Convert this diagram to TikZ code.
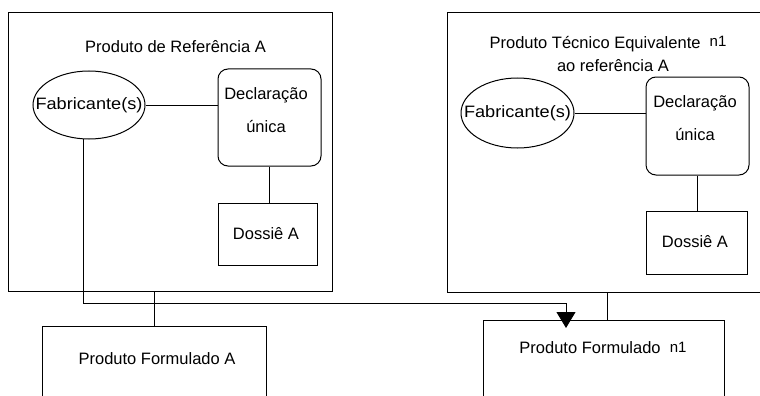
\documentclass[tikz,border=0pt]{standalone}
\usepackage{fontspec}
\usepackage{graphicx}
\setmainfont{Liberation Sans}
\usetikzlibrary{shapes.geometric,arrows.meta}
\begin{document}
\begin{tikzpicture}[x=1pt,y=-1pt,
  every node/.style={font=\fontsize{16.5}{19}\selectfont},
  box/.style={draw,line width=1pt,rectangle,inner sep=0pt},
  rbox/.style={box,rounded corners=10pt},
  ell/.style={draw,line width=1pt,ellipse,inner sep=0pt},
  txt/.style={inner sep=0pt,anchor=center},
  conn/.style={line width=1pt},
  arr/.style={line width=1pt,-{Triangle[width=19pt,length=16pt]}}]
\useasboundingbox (0,0) rectangle (760,396);
\clip (0,0) rectangle (760,396);
% big boxes
\node[box,minimum width=324pt,minimum height=278pt] (bigL) at (170,152) {};
\node[box,minimum width=323pt,minimum height=279pt] (bigR) at (608.5,152.5) {};
\node[txt] (tL) at (175.5,47) {Produto de Referência A};
\node[txt] (tR1) at (608,44) {Produto Técnico Equivalente \ \raisebox{1.5pt}{\fontsize{15}{15}\selectfont n1}};
\node[txt] (tR2) at (613,66) {ao referência A};
% left contents
\node[ell,minimum width=112pt,minimum height=68pt] (e1) at (89,105) {};
\node[txt] (e1t) at (89,105) {\scalebox{1.1}[1]{Fabricante(s)}};
\node[rbox,minimum width=103pt,minimum height=97pt] (d1) at (269.5,117.5) {};
\node[txt] (d1a) at (266,95) {Declaração};
\node[txt] (d1b) at (266,127) {única};
\node[box,minimum width=99pt,minimum height=62pt] (s1) at (267.5,234) {};
\node[txt] (s1t) at (266,234) {Dossiê A};
% right contents
\node[ell,minimum width=113pt,minimum height=70pt] (e2) at (517.5,113) {};
\node[txt] (e2t) at (517.5,113) {\scalebox{1.1}[1]{Fabricante(s)}};
\node[rbox,minimum width=103pt,minimum height=98pt] (d2) at (697.5,126) {};
\node[txt] (d2a) at (695,103) {Declaração};
\node[txt] (d2b) at (695,135) {única};
\node[box,minimum width=101pt,minimum height=63pt] (s2) at (696.5,242.5) {};
\node[txt] (s2t) at (695,242) {Dossiê A};
% bottom boxes
\node[box,minimum width=224pt,minimum height=94pt] (pA) at (154,373) {};
\node[txt] (pAt) at (157,359) {Produto Formulado A};
\node[box,minimum width=241pt,minimum height=100pt] (pN) at (603.5,370) {};
\node[txt] (pNt) at (603,348) {Produto Formulado \ \raisebox{1.5pt}{\fontsize{15}{15}\selectfont n1}};
% connectors
\draw[conn] (e1.east) -- (e1.east -| d1.west);
\draw[conn] (d1.south) -- (d1.south |- s1.north);
\draw[conn] (pA.north |- bigL.south) -- (pA.north);
\draw[conn] (e2.east) -- (e2.east -| d2.west);
\draw[conn] (d2.south) -- (d2.south |- s2.north);
\draw[conn] (607,0 |- bigR.south) coordinate (rb) -- (rb |- pN.north);
\coordinate (e1b) at (83,139);
\coordinate (turn) at (566,303);
\coordinate (tip) at (566,328);
\draw[arr] (e1b) |- (turn) -- (tip);
\end{tikzpicture}
\end{document}
